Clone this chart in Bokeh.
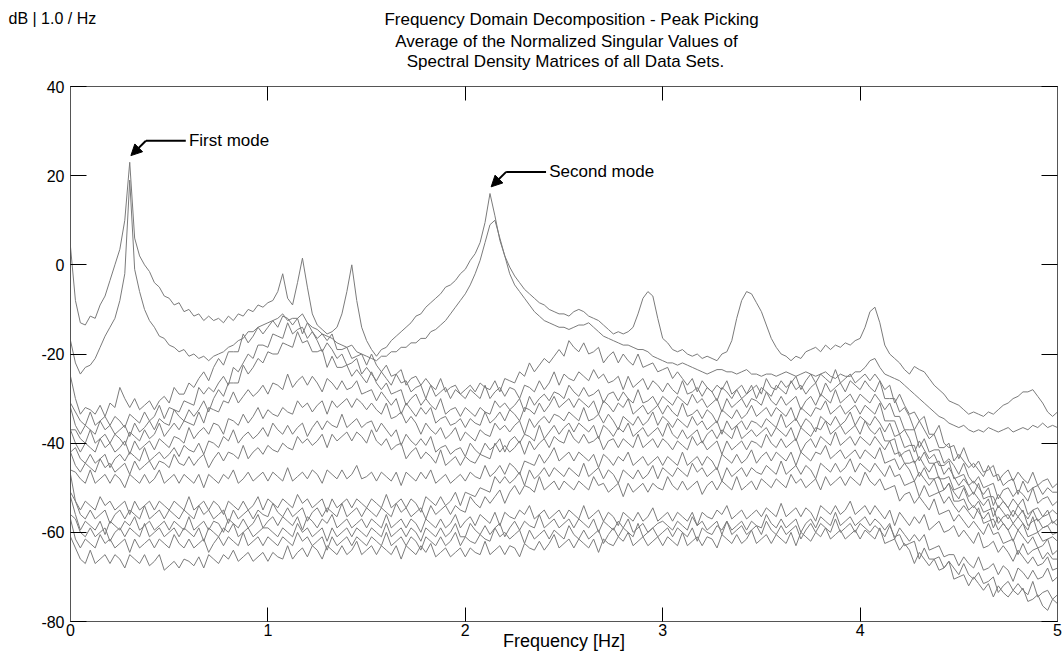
from bokeh.plotting import figure
from bokeh.models import Range1d, LinearAxis, FixedTicker, Label, Arrow, NormalHead
from bokeh.embed import file_html
from bokeh.resources import INLINE

# ---------------- data ----------------
freq = [round(i * 0.025, 3) for i in range(201)]

x_ticks = [0, 1, 2, 3, 4, 5]
x_tick_labels = ["0", "1", "2", "3", "4", "5"]
y_ticks = [40, 20, 0, -20, -40, -60, -80]
y_tick_labels = ["40", "20", "0", "-20", "-40", "-60", "-80"]

title_lines = ["Frequency Domain Decomposition - Peak Picking",
               "Average of the Normalized Singular Values of",
               "Spectral Density Matrices of all Data Sets."]
unit_text = "dB | 1.0 / Hz"
x_label = "Frequency [Hz]"
mode_labels = ["First mode", "Second mode"]

# singular values in dB, 0.025 Hz grid (0 .. 5 Hz)
sv1 = [4, -8, -13, -13.5, -11.5, -12, -9, -7, -3.5, 0, 3.5, 10, 23, 6, 2, 0, -1.5, -4, -5, -7,
       -7.5, -9, -8.5, -10.5, -10, -11.5, -11, -12.5, -11.5, -12.5, -12, -13, -11.5, -12.5, -11, -11.5, -10, -10.5, -9, -9.5,
       -8.5, -8, -6, -2, -7.5, -9, -4, 1.5, -5, -11, -13.5, -14.5, -15.5, -15, -14, -11, -6, 0, -8, -14,
       -17, -19, -20.5, -19, -18.5, -17, -16, -15, -14, -13, -11.5, -11, -9.5, -8.5, -7.5, -6.5, -5, -4.5, -3.5, -2,
       -1, 1, 2.5, 5, 9.5, 16, 11, 5.5, 2, -0.5, -2.5, -4, -5.5, -6.5, -7.5, -8.5, -9, -10, -10.5, -11,
       -11, -11.5, -10.5, -10, -10.5, -11.5, -12, -12.5, -13.5, -14.5, -15.5, -15, -15.5, -15, -14, -11, -7.5, -6, -7, -12,
       -16.5, -17.5, -19, -19.5, -19, -20, -20.5, -20, -21, -20.5, -21, -21.5, -20, -19.5, -17, -12, -8, -6, -6.5, -8.5,
       -10.5, -13.5, -16.5, -18.5, -20, -20.5, -21.5, -20.5, -21, -19.5, -19, -18.5, -19.5, -18, -19, -18, -18.5, -17.5, -18, -17,
       -16.5, -14, -10.5, -9.5, -13, -18, -20, -21, -22, -23.5, -24.5, -22.8, -23.5, -24, -25.5, -27, -28, -29, -30.5, -31,
       -31.5, -32.5, -33.5, -33, -33.5, -34, -33, -33.5, -32.5, -31.5, -31, -30, -29.5, -28.5, -28.5, -28, -29.5, -31, -33, -34,
       -33]
sv2 = [-17, -22, -24.5, -23, -22.5, -21, -18.5, -16, -14, -12, -8, -2, 19, -1, -6, -10, -12.5, -14, -16, -16.5,
       -18, -18.5, -19.5, -19, -20.5, -20, -21, -20.5, -21.5, -20.5, -20, -19.5, -18.5, -18, -17, -16.5, -15, -15, -14, -13.5,
       -13, -12.5, -12, -11, -12.5, -12, -12, -11, -13, -14, -14.5, -15.5, -16, -16.5, -17.5, -18, -18.5, -18, -19.5, -20,
       -20.5, -21, -21.5, -20.5, -20.5, -19.5, -19.5, -18.5, -18.5, -17.5, -17.5, -16.5, -16.5, -15, -14.5, -13.5, -12.5, -11, -9.5, -8,
       -6.5, -4.5, -2, 1, 5, 9, 10, 6, 2, -2, -4.5, -6, -7.5, -9, -10.5, -11.5, -12.5, -13, -13.5, -14,
       -14, -14.5, -14, -13.5, -13.5, -13, -14, -15, -16, -16.5, -17, -17.5, -18, -18, -18.5, -19, -19, -19.5, -20.5, -21,
       -21.5, -22, -22, -22.5, -22, -22.5, -23, -23.5, -24, -24.5, -24, -23.5, -23.5, -24, -24, -24.5, -24, -23.5, -24.5, -24.5,
       -25, -24.5, -24.5, -25, -24.5, -24, -24.5, -25, -24.5, -24, -24.5, -25, -24.5, -24, -25, -25.5, -24.5, -25, -25, -24,
       -24, -23, -21.5, -21, -23, -24.5, -25, -25.5, -26, -27, -28, -29, -30, -31, -32, -33, -34, -34.5, -35.5, -36,
       -36.5, -36, -37, -37.5, -37, -37.5, -36.5, -37, -37.5, -37, -36.5, -37.5, -37, -36.5, -37, -36, -36.5, -35.5, -36.5, -36,
       -36.5]
sv3 = [-25, -30, -33.5, -32, -32.5, -33.5, -31.5, -34, -31, -32, -27.5, -30, -32, -30, -32.5, -31.5, -30.5, -32.5, -30.5, -29.5,
       -31, -27.5, -29, -29, -26.5, -27.5, -25.5, -24, -26, -23, -21, -22.5, -19.5, -19.5, -19.5, -15.5, -17.5, -16, -14, -15.5,
       -14, -12.5, -14, -11.5, -12, -13.5, -12, -15.5, -13, -15, -16.5, -15.5, -17, -15.5, -19, -19, -18.5, -21, -20.5, -20,
       -22.5, -20, -22.5, -24, -22.5, -25, -24.5, -23.5, -27, -25.5, -25, -27, -25.5, -27, -28, -25.5, -28.5, -27.5, -27, -29,
       -28, -27, -28.5, -26.5, -27.5, -28, -26, -28.5, -25.5, -26, -26.5, -24, -25, -22, -24, -22.5, -21, -22, -20.5, -19,
       -20.5, -17, -18.5, -19.5, -17.5, -20, -19.5, -18.5, -22, -20.5, -19.5, -22, -20, -21.5, -22.5, -20, -23, -22.5, -22, -24,
       -23.5, -23, -25.5, -24, -25.5, -27, -25.5, -28.5, -26, -27.5, -28.5, -27, -28, -26, -29, -28, -27, -29, -28, -27,
       -29, -25.5, -27.5, -28, -26, -27.5, -26.5, -25, -28, -26, -24.5, -26.5, -24.5, -25.5, -26.5, -23.5, -26.5, -25.5, -24.5, -26.5,
       -25.5, -24.5, -26, -24.5, -26, -28, -27, -31, -29, -31.5, -33.5, -33, -35, -34, -38, -38, -36, -40, -41, -40.5,
       -43.5, -41, -44, -45.5, -44, -46.5, -46, -45, -48.5, -47, -46, -48.5, -46.5, -48, -49, -46.5, -49.5, -48.5, -48, -50,
       -49]
sv4 = [-31, -33, -35, -36, -33, -36, -35, -34, -36, -34, -35, -36.5, -33.5, -34.5, -35.5, -33, -35, -34, -31.5, -34.5,
       -32, -32.5, -33, -30.5, -31, -31.5, -27.5, -29, -27.5, -28.5, -26.5, -25, -27, -23, -24, -22, -20, -21, -18, -18,
       -18.5, -15.5, -16, -16.5, -13, -15.5, -14.5, -14, -16.5, -15, -17, -19.5, -17.5, -19, -21, -20, -22.5, -22, -21, -24.5,
       -23, -24.5, -26, -24, -25.5, -27, -24.5, -26.5, -26, -28.5, -27.5, -27, -30, -27, -29.5, -28.5, -27.5, -30, -28, -29,
       -30, -28, -29, -30, -27, -30, -28.5, -27.5, -29.5, -27.5, -28, -30, -27, -27.5, -28.5, -26, -28, -26.5, -24, -27,
       -24.5, -25.5, -26, -24, -25, -26, -23.5, -25.5, -24.5, -26.5, -26, -25, -28, -25, -27.5, -26.5, -25.5, -28, -26, -27,
       -28.5, -26.5, -28, -29, -26, -29, -28.5, -27.5, -29.5, -27.5, -28.5, -30.5, -27.5, -28.5, -30, -28, -30, -29, -27, -30,
       -27.5, -28.5, -29.5, -27, -28, -29, -26, -28, -27, -29, -27.5, -26.5, -29.5, -26.5, -28.5, -27.5, -26.5, -28.5, -26, -27,
       -28, -26, -27.5, -28.5, -26, -30, -30, -30, -33, -32, -34, -37, -35, -37, -39, -38, -41, -41, -40, -44,
       -42.5, -44, -45.5, -44.5, -46, -47.5, -45, -47.5, -47, -49.5, -48.5, -48, -51.5, -48.5, -51, -50, -49.5, -51.5, -50, -51,
       -51]
sv5 = [-32, -36, -38, -36, -37, -38, -35, -37, -36, -38, -37, -36, -38.5, -35.5, -37.5, -36.5, -35, -37, -34.5, -35.5,
       -36, -32.5, -34, -35, -32.5, -34, -32.5, -30.5, -33, -30, -28, -29.5, -26.5, -26.5, -26.5, -22.5, -24.5, -23, -21, -22,
       -19.5, -20, -20, -17.5, -18, -18.5, -15, -17.5, -17, -19.5, -19.5, -19, -23, -20.5, -23, -23, -22.5, -25, -23.5, -25,
       -26.5, -24, -26.5, -28, -26.5, -29, -28.5, -28, -31.5, -30, -29, -31.5, -30, -31.5, -32.5, -30, -33.5, -32.5, -32, -34,
       -32, -33, -34, -32, -33, -33.5, -30.5, -32, -31, -32.5, -31.5, -30, -33, -29.5, -31.5, -30, -29, -30.5, -28.5, -29,
       -30, -27, -28.5, -29.5, -27.5, -29.5, -29, -28, -31, -29, -28.5, -30.5, -28.5, -30, -31, -28, -31, -30.5, -29.5, -31.5,
       -29.5, -30.5, -31.5, -29.5, -30.5, -31.5, -29, -31, -30, -32, -31, -30, -33, -30, -32, -31, -30, -32, -30, -30.5,
       -31.5, -28.5, -30.5, -31.5, -29.5, -31.5, -30.5, -29.5, -32.5, -30.5, -29.5, -31.5, -29, -30, -31, -28, -31, -30, -29, -31,
       -29, -30, -31, -29, -30.5, -32.5, -31, -34, -34, -37, -37, -37, -41, -39, -42, -41.5, -41.5, -44.5, -43.5, -45,
       -47, -44.5, -47.5, -49, -47.5, -50, -49.5, -49, -52.5, -50.5, -50, -52, -50.5, -51.5, -53, -50, -53.5, -52.5, -52, -54,
       -53]
sv6 = [-37, -37, -39, -40, -37, -40, -39, -38, -40, -38, -39, -40.5, -37.5, -38.5, -39.5, -37, -39, -38, -35.5, -38.5,
       -37, -35.5, -37, -35, -35.5, -36, -33, -35.5, -32, -32.5, -33, -30.5, -31, -28.5, -31, -29.5, -28, -29.5, -28.5, -27,
       -29, -26.5, -27, -28, -24.5, -27.5, -26, -25, -27, -25, -26.5, -28.5, -25.5, -26.5, -28, -26, -28, -27.5, -26, -29,
       -28.5, -28, -30.5, -28.5, -30, -31.5, -30, -33.5, -31, -32.5, -34, -32, -33.5, -32, -35.5, -34.5, -34, -36, -35.5, -34.5,
       -36.5, -34.5, -35.5, -36, -33, -35.5, -34.5, -33, -35, -32.5, -33.5, -35, -32, -32.5, -33.5, -31, -33, -31.5, -29.5, -32,
       -31, -30, -32, -30, -31, -32, -30.5, -33.5, -30.5, -31.5, -33, -31, -32, -30, -33.5, -32.5, -31.5, -33.5, -32.5, -31.5,
       -33.5, -31.5, -33, -34, -31, -34, -33.5, -32.5, -34.5, -32.5, -33.5, -35.5, -32.5, -33.5, -34.5, -32.5, -34.5, -33.5, -31.5, -34,
       -33, -32, -34, -32, -33, -34, -32, -35, -32, -33, -34, -32, -32.5, -30.5, -33.5, -32.5, -31.5, -33.5, -32.5, -31.5,
       -33.5, -31.5, -32.5, -33.5, -31, -35, -35, -35, -38, -37, -39, -42, -39.5, -41.5, -43.5, -42.5, -45, -45, -44, -48,
       -47.5, -47, -49.5, -48.5, -50, -51.5, -50, -54, -51.5, -53, -54.5, -52.5, -54, -52.5, -56, -55, -54.5, -56.5, -56, -55,
       -56]
sv7 = [-37, -40, -42, -40, -41, -42, -39, -41, -40, -42, -41, -39.5, -42.5, -39.5, -41.5, -40.5, -39.5, -41.5, -39, -40,
       -41, -38.5, -39, -40, -36.5, -39, -37.5, -36.5, -38, -35.5, -36, -38, -34.5, -35, -36, -33.5, -35.5, -34, -32, -34.5,
       -32.5, -33.5, -34, -32, -33, -33.5, -30.5, -32, -31, -33, -31.5, -30.5, -33.5, -30.5, -32, -31, -30, -32, -30, -31,
       -32.5, -31, -32.5, -33.5, -31, -34.5, -34, -33, -35.5, -34, -35.5, -38, -35.5, -37, -38, -36.5, -39, -38, -36.5, -39.5,
       -37.5, -38.5, -39.5, -37, -38, -38.5, -35.5, -37, -36, -37.5, -36, -35, -38, -34.5, -36.5, -35, -34, -35.5, -33.5, -34,
       -35, -33, -34, -35, -32, -35, -34.5, -33.5, -35.5, -33.5, -35, -37, -34, -35, -36, -34, -36, -35, -33, -36,
       -34, -35, -36.5, -34.5, -35.5, -36.5, -34, -36, -35, -37, -36, -35, -38, -35, -37, -36, -35, -37, -35, -35.5,
       -36.5, -34.5, -35.5, -36.5, -33.5, -36.5, -35.5, -34.5, -36.5, -34.5, -35.5, -37.5, -34, -35, -36, -34, -36, -35, -33, -36,
       -34, -35, -36, -34, -35.5, -37.5, -35.5, -38.5, -38, -41, -40.5, -40.5, -44, -42, -44.5, -44.5, -44, -47, -45.5, -47.5,
       -49.5, -48, -49.5, -51.5, -49, -52.5, -52, -52, -54.5, -53, -54.5, -56.5, -54, -55.5, -57, -55, -57.5, -56.5, -55, -58,
       -57]
sv8 = [-42, -41, -43.5, -44.5, -42.5, -44.5, -43.5, -42.5, -45.5, -43.5, -42.5, -44, -42, -43, -44, -41, -44, -43, -42, -43.5,
       -42.5, -41, -43, -40.5, -41.5, -42, -40, -42.5, -39.5, -40, -41, -38.5, -39.5, -37, -40, -38.5, -37.5, -39, -38, -36.5,
       -38.5, -35.5, -37, -38, -36, -38, -36.5, -35.5, -38.5, -36.5, -35, -37, -35, -36, -36.5, -33.5, -36.5, -35.5, -34.5, -36.5,
       -35.5, -35, -37.5, -35.5, -37, -38.5, -37, -40.5, -38, -39.5, -40.5, -39, -40.5, -38.5, -42, -41, -40.5, -42.5, -41.5, -41,
       -43, -40, -41.5, -42.5, -40, -41.5, -40.5, -39, -42, -39.5, -38.5, -40, -38, -38.5, -39.5, -36, -39, -37.5, -36, -38,
       -36.5, -35.5, -37.5, -35.5, -36.5, -37.5, -36, -39, -36, -37, -38.5, -36.5, -37.5, -35.5, -38.5, -37.5, -36.5, -38.5, -37.5, -36.5,
       -38.5, -35.5, -38, -39, -37, -39, -38, -37, -40, -38, -37, -39, -37, -38, -39, -36, -39, -38, -37, -38.5,
       -37.5, -36.5, -38.5, -36.5, -37.5, -38.5, -36.5, -39.5, -36.5, -37.5, -38.5, -36.5, -37, -35, -38, -37, -36, -38, -37, -36,
       -38, -35, -37, -38, -36.5, -39.5, -39.5, -39, -43, -42, -41.5, -44.5, -43, -45, -46.5, -44.5, -48, -48, -47.5, -50.5,
       -50, -49.5, -52, -51, -52.5, -54, -52.5, -56.5, -54, -55.5, -57, -55, -56.5, -55, -58.5, -57.5, -57, -59, -58.5, -57.5,
       -58.5]
sv9 = [-42, -45, -46.5, -44.5, -45.5, -46.5, -43.5, -45.5, -44.5, -46.5, -45.5, -44.5, -47, -44, -46, -45, -44, -46, -44, -44.5,
       -45.5, -42.5, -44.5, -45, -43, -45, -43.5, -42.5, -45.5, -43.5, -42, -44, -42, -42.5, -43.5, -40.5, -43.5, -42, -41, -42.5,
       -40.5, -41.5, -42, -40, -41, -41.5, -38.5, -40, -39, -40.5, -39.5, -38, -41, -38, -39.5, -38.5, -37.5, -39.5, -37.5, -38.5,
       -40, -37, -39.5, -40.5, -39, -41.5, -40.5, -40, -43.5, -42, -41, -43.5, -42, -43, -44.5, -41.5, -45, -44, -43, -45,
       -43, -44, -44.5, -42.5, -43, -43.5, -40, -42, -40.5, -42, -41, -39.5, -42.5, -39.5, -41.5, -40, -39, -41, -38.5, -39.5,
       -40, -37, -39, -40, -38, -40, -39.5, -38.5, -41.5, -39.5, -39, -41, -39, -40, -41, -38, -41, -40, -39, -41,
       -39, -40, -41.5, -39.5, -40.5, -41.5, -38.5, -40.5, -39.5, -41.5, -40.5, -39.5, -42.5, -39.5, -41.5, -40.5, -39.5, -41.5, -39.5, -40,
       -41, -38, -40, -41, -39, -41, -40, -39, -42, -40, -39, -41, -38.5, -39.5, -40.5, -37.5, -40.5, -39.5, -38.5, -40.5,
       -38.5, -39.5, -40.5, -38.5, -40, -41.5, -39.5, -42.5, -42, -44.5, -44.5, -44, -47.5, -45.5, -48, -48, -47.5, -50.5, -49, -51,
       -52.5, -50, -53, -54.5, -53, -55.5, -55, -54.5, -58, -56.5, -56, -58, -56.5, -58, -59.5, -56.5, -60, -59, -58.5, -60.5,
       -60]
sv10 = [-46, -46.5, -48, -49, -46, -49, -48, -47, -49, -47, -48, -50, -47, -48, -49, -47, -49, -48, -46, -49,
        -48, -47, -49, -47, -48, -49, -47, -50, -47, -48, -49, -47, -48, -46, -49, -48, -46.5, -48.5, -47.5, -46.5,
        -48.5, -46.5, -47.5, -48.5, -45.5, -48.5, -47.5, -46.5, -48, -46, -47, -49, -46, -47, -48, -46, -48, -47, -45, -48,
        -47.5, -46.5, -48.5, -46.5, -47.5, -48.5, -46.5, -49.5, -46.5, -47.5, -48.5, -46.5, -48, -46, -49, -48, -47, -49, -48, -47,
        -48.5, -46.5, -47.5, -48, -45, -47.5, -46.5, -45, -47, -44.5, -45.5, -47, -44, -44.5, -45, -42.5, -44.5, -43, -41, -44,
        -43, -42, -44, -42, -43, -44, -42.5, -45.5, -42.5, -43.5, -45, -43, -44, -42, -45, -44, -43, -45, -44, -43,
        -45, -43, -44, -45, -42, -45, -44, -43, -45, -43, -44, -46, -42.5, -43.5, -44.5, -42.5, -44.5, -43.5, -41.5, -44.5,
        -43, -42, -44, -42, -43, -44, -42, -45, -42, -43, -44, -42, -42.5, -40.5, -43.5, -42.5, -41.5, -43.5, -42.5, -41.5,
        -43.5, -41.5, -42.5, -43.5, -41, -44.5, -44, -43.5, -46, -44.5, -46, -48.5, -46.5, -48, -49.5, -48, -51, -50.5, -49, -53,
        -53, -52.5, -55, -54, -55.5, -57, -55.5, -59, -56.5, -58, -59.5, -58, -59.5, -58, -61, -60.5, -60, -62, -61.5, -61,
        -62]
sv11 = [-47, -53, -55, -53, -54, -55, -52, -54, -53, -55, -54, -53, -56, -53, -55, -54, -53, -55, -53, -54,
        -55, -53, -54, -55, -52, -55, -54, -53, -55, -53, -54, -56, -53, -54, -55, -53, -55, -54, -52, -55,
        -52.5, -53.5, -54.5, -52.5, -53.5, -54.5, -51.5, -53.5, -52.5, -54.5, -53.5, -52.5, -55.5, -52.5, -54.5, -53.5, -52.5, -54.5, -52.5, -53.5,
        -54.5, -52.5, -53.5, -54.5, -51.5, -54.5, -53.5, -52.5, -54.5, -52.5, -53.5, -55.5, -52, -53, -54, -52, -54, -53, -51, -54,
        -51, -51.5, -52, -50, -50.5, -51, -47.5, -49, -47.5, -49, -48, -46.5, -49.5, -46, -48, -47, -45.5, -47.5, -45.5, -46.5,
        -47.5, -45.5, -46.5, -47.5, -44.5, -47.5, -46.5, -45.5, -48, -46, -47, -49, -46, -47, -48, -46, -48, -47, -45, -48,
        -45.5, -46.5, -47.5, -45.5, -46.5, -47.5, -44.5, -46.5, -45.5, -47.5, -46.5, -45.5, -48.5, -45.5, -47.5, -46.5, -45.5, -47.5, -45.5, -46.5,
        -47, -45, -46, -47, -44, -47, -46, -45, -47, -45, -46, -48, -44.5, -45.5, -46.5, -44.5, -46.5, -45.5, -43.5, -46.5,
        -44.5, -45.5, -46.5, -44.5, -46, -47.5, -45, -47.5, -47, -49.5, -49, -48.5, -52, -49.5, -52, -51.5, -51, -53.5, -52, -54,
        -55.5, -54, -55.5, -57, -54.5, -58, -57.5, -57, -59.5, -58, -59.5, -62, -59.5, -61, -62.5, -61, -63.5, -63, -61.5, -65,
        -64]
sv12 = [-51, -53, -56, -57, -55, -57, -56, -55, -58, -56, -55, -57, -55, -56, -57, -54, -57, -56, -55, -57,
        -55, -56, -57, -55, -56, -57, -54, -56, -55, -57, -56, -55, -58, -55, -57, -56, -55, -57, -55, -56,
        -56.5, -53.5, -55.5, -56.5, -54.5, -56.5, -55.5, -54.5, -57.5, -55.5, -54.5, -56.5, -54.5, -55.5, -56.5, -53.5, -56.5, -55.5, -54.5, -56.5,
        -54.5, -55.5, -56.5, -54.5, -55.5, -56.5, -53.5, -55.5, -54.5, -56.5, -55.5, -54.5, -57, -54, -56, -55, -54, -56, -54, -55,
        -55.5, -52, -53.5, -54.5, -52, -53.5, -52, -50.5, -53.5, -51, -49.5, -51.5, -49.5, -50, -51, -47.5, -50.5, -49.5, -48.5, -50.5,
        -48.5, -49.5, -50.5, -48.5, -49.5, -50.5, -47.5, -49.5, -49, -51, -50, -49, -52, -49, -51, -50, -49, -51, -49, -50,
        -50.5, -47.5, -49.5, -50.5, -48.5, -50.5, -49.5, -48.5, -51.5, -49.5, -48.5, -50.5, -48.5, -49.5, -50.5, -47.5, -50.5, -49.5, -48.5, -50.5,
        -48, -49, -50, -48, -49, -50, -47, -49, -48, -50, -49, -48, -50.5, -47.5, -49.5, -48.5, -47.5, -49.5, -47.5, -48.5,
        -49.5, -46.5, -48.5, -49.5, -48, -50.5, -50, -49.5, -53, -51.5, -51, -53.5, -52, -53.5, -55, -52.5, -56, -55.5, -55, -57.5,
        -56, -57.5, -59, -57.5, -59, -60.5, -58, -60.5, -60, -62.5, -62, -61.5, -65, -62.5, -65, -64, -63.5, -66, -64.5, -66,
        -66]
sv13 = [-52, -56, -59.5, -57.5, -58.5, -59.5, -57.5, -60.5, -57.5, -58.5, -59.5, -57.5, -58.5, -56.5, -59.5, -58.5, -57.5, -59.5, -58.5, -57.5,
        -59.5, -57.5, -58.5, -59.5, -56.5, -59.5, -58.5, -57.5, -59.5, -57.5, -58, -60, -57, -58, -59, -57, -59, -58, -56, -59,
        -57.5, -56.5, -58.5, -56.5, -57.5, -58.5, -56.5, -59.5, -56.5, -57.5, -59, -57, -58, -56, -59, -58, -57, -59, -58, -57,
        -59, -57, -58, -59, -56, -59, -58, -57, -59, -57, -58, -60, -57, -58, -59, -57, -59, -58, -56, -59,
        -57.5, -56.5, -58.5, -56, -57, -58, -55.5, -58.5, -55.5, -56.5, -57, -55, -56, -54, -57, -56, -55, -57, -56, -55,
        -57, -55, -56, -57, -54, -57, -56, -55, -57.5, -55.5, -56.5, -58.5, -55.5, -56.5, -57.5, -55.5, -57.5, -56.5, -54.5, -57.5,
        -56.5, -55.5, -57.5, -55.5, -56.5, -57.5, -55.5, -58.5, -55.5, -56.5, -57, -55, -56, -54, -57, -56, -55, -57, -56, -55,
        -56.5, -54.5, -55.5, -56.5, -53.5, -56.5, -55.5, -54.5, -56.5, -54.5, -55.5, -57.5, -54, -55, -56, -54, -56, -55, -53, -56,
        -55, -54, -56, -54, -55.5, -57, -55, -58.5, -55.5, -57, -58.5, -56.5, -58, -56, -59.5, -58.5, -57.5, -60, -59.5, -58.5,
        -61, -59.5, -61, -62.5, -60, -63.5, -63, -62, -64.5, -63, -64.5, -66.5, -64, -65.5, -67, -65.5, -67.5, -67, -65.5, -68.5,
        -68]
sv14 = [-56, -57, -60, -61, -59, -61, -60, -59, -62, -60, -59, -61, -59, -60, -61, -58, -61, -60, -59, -61,
        -60, -59, -61, -59, -60, -61, -59, -62, -59, -60, -61, -59, -60, -58, -61, -60, -59, -61, -60, -59,
        -59, -60, -61, -59, -60, -61, -58, -60, -59, -61, -60, -59, -62, -59, -61, -60, -59, -61, -59, -60,
        -61, -59, -60, -61, -58, -61, -60, -59, -61, -59, -60, -62, -59, -60, -61, -59, -61, -60, -58, -61,
        -61, -58, -59.5, -60.5, -58.5, -60.5, -59, -58, -61, -59, -57.5, -59.5, -57.5, -58.5, -59, -56, -59, -58, -57, -59,
        -58, -57, -59, -57, -58, -59, -57, -60, -57.5, -58.5, -59.5, -57.5, -59, -57, -60, -59, -58, -60, -59, -58,
        -57.5, -58.5, -59.5, -57.5, -58.5, -59.5, -56.5, -58.5, -57.5, -59.5, -58.5, -57.5, -60.5, -57.5, -59.5, -58.5, -57.5, -59.5, -57.5, -58.5,
        -59, -56, -58, -59, -57, -59, -58, -57, -60, -58, -57, -59, -56.5, -57.5, -58.5, -55.5, -58.5, -57.5, -56.5, -58.5,
        -57.5, -56.5, -58.5, -57, -58, -59.5, -58, -61.5, -59, -60.5, -62, -60.5, -62, -60.5, -64, -63.5, -63, -65.5, -65, -65,
        -67.5, -65.5, -67, -68, -65.5, -68.5, -68, -67, -69.5, -67.5, -68.5, -71, -68, -69, -70.5, -68.5, -70.5, -70, -68, -71,
        -70]
sv15 = [-57, -61.5, -63.5, -61.5, -62.5, -63.5, -60.5, -62.5, -61.5, -63.5, -62.5, -61.5, -64.5, -61.5, -63.5, -62.5, -61.5, -63.5, -61.5, -62.5,
        -63.5, -60.5, -62.5, -63.5, -61.5, -63.5, -62.5, -61.5, -64.5, -62.5, -61, -63, -61, -62, -63, -60, -63, -62, -61, -63,
        -61, -62, -63, -61, -62, -63, -60, -62, -61, -63, -62, -61, -64, -61, -63, -62, -61, -63, -61, -62,
        -63, -61, -62, -63, -60, -63, -62, -61, -63, -61, -62, -64, -61, -62, -63, -61, -63, -62, -60, -63,
        -61, -62, -62.5, -60.5, -61.5, -62, -59, -61, -60, -61.5, -60.5, -59.5, -62.5, -59.5, -61.5, -60.5, -59.5, -61.5, -59.5, -60.5,
        -61.5, -58.5, -60.5, -61.5, -59.5, -61.5, -60.5, -59.5, -62.5, -60.5, -59, -61, -59, -60, -61, -58, -61, -60, -59, -61,
        -60, -59, -61, -59, -60, -61, -59, -62, -59, -60, -60.5, -58.5, -59.5, -57.5, -60.5, -59.5, -58.5, -60.5, -59.5, -58.5,
        -60.5, -57.5, -59.5, -60.5, -58.5, -60.5, -59.5, -58.5, -61.5, -59.5, -58, -60, -58, -59, -60, -57, -60, -59, -58, -60,
        -58, -59, -60, -58.5, -59.5, -61, -58.5, -61, -60.5, -63, -62.5, -62, -66, -63.5, -66, -66, -65.5, -68, -66.5, -68,
        -69.5, -67, -69.5, -70.5, -69, -71.5, -71, -70, -73.5, -72, -71, -73, -71.5, -73, -74, -71, -74.5, -73.5, -73, -75,
        -74]
sv16 = [-61, -63.5, -66, -67, -64, -67, -66, -65, -67, -65, -66, -68, -65, -66, -67, -65, -67.5, -66.5, -65, -68.5,
        -67.5, -66.5, -68, -66, -66.5, -67.5, -65.5, -68, -65, -66, -67, -65, -66, -64, -66.5, -65.5, -64.5, -66.5, -65.5, -64.5,
        -66.5, -64.5, -65.5, -66, -63, -66, -64.5, -63.5, -65.5, -63, -64, -66, -63, -64, -65, -63, -65, -64, -62, -65,
        -64, -63, -65, -63, -64, -65, -63, -66, -63, -64, -65, -63, -64.5, -62.5, -65.5, -64.5, -63.5, -65.5, -64.5, -63.5,
        -65.5, -63.5, -64.5, -65, -62, -65, -64, -63, -65, -63, -63.5, -65.5, -62.5, -63.5, -64, -62, -64, -62.5, -60.5, -63.5,
        -62.5, -61.5, -63.5, -61.5, -62.5, -63.5, -61.5, -64.5, -61.5, -62.5, -63, -61, -62, -60, -63, -62, -61, -63, -62, -61,
        -63, -61, -62, -63, -60, -63, -62, -61, -63, -61, -61.5, -63.5, -60.5, -61.5, -62.5, -60.5, -62.5, -61.5, -59.5, -62.5,
        -61.5, -60.5, -62.5, -60.5, -61.5, -62.5, -60, -63, -60, -61, -62, -60, -61, -59, -61.5, -60.5, -59.5, -61.5, -60.5, -59.5,
        -61.5, -59.5, -60.5, -61.5, -59, -62.5, -62, -61.5, -64, -62.5, -64, -67, -64.5, -66, -67.5, -66, -68.5, -68, -66.5, -70.5,
        -70, -69.5, -72, -70, -71.5, -73, -71.5, -74.5, -72, -73.5, -74.5, -73, -74, -72.5, -75.5, -75, -74, -76.5, -77.5, -75,
        -76]

series = [sv3, sv4, sv5, sv6, sv7, sv8, sv9, sv10, sv11, sv12, sv13, sv14, sv15, sv16, sv2, sv1]

# ---------------- styling ----------------
FONT = "Liberation Sans"
LINE = "#7b7b7b"
FRAME = "#555555"
PAGE_W = 1062
HEAD_H = 72
MAIN_H = 594

# ---------------- header (titles) ----------------
head = figure(width=PAGE_W, height=HEAD_H, x_range=Range1d(0, PAGE_W), y_range=Range1d(HEAD_H, 0),
              output_backend="svg", toolbar_location=None,
              x_axis_location=None, y_axis_location=None,
              min_border_left=0, min_border_right=0, min_border_top=0, min_border_bottom=0)
head.grid.visible = False
head.outline_line_color = None
head.background_fill_color = "white"
head.border_fill_color = "white"

title_pos = [(571, 19), (566, 40.5), (565, 61)]
for t, (tx, ty) in zip(title_lines, title_pos):
    head.add_layout(Label(x=tx, y=ty, text=t, text_font=FONT, text_font_size="17px",
                          text_align="center", text_baseline="middle", text_color="black"))
head.add_layout(Label(x=8, y=18, text=unit_text, text_font=FONT, text_font_size="16px",
                      text_align="left", text_baseline="middle", text_color="black"))

# ---------------- main plot ----------------
p = figure(width=PAGE_W, height=MAIN_H, x_range=Range1d(0, 5), y_range=Range1d(-80, 40),
           output_backend="svg", toolbar_location=None,
           x_axis_location=None, y_axis_location=None,
           min_border_left=70, min_border_right=5, min_border_top=14, min_border_bottom=45)
p.grid.visible = False
p.outline_line_color = FRAME
p.outline_line_width = 1
p.background_fill_color = "white"
p.border_fill_color = "white"


def make_axis(ticks, labels, show_labels, tick_len):
    ax = LinearAxis(ticker=FixedTicker(ticks=ticks),
                    major_label_overrides={t: l for t, l in zip(ticks, labels)})
    ax.major_tick_in = tick_len
    ax.major_tick_out = 0
    ax.minor_tick_in = 0
    ax.minor_tick_out = 0
    ax.major_tick_line_color = "black"
    ax.axis_line_color = FRAME
    ax.major_label_text_font = FONT
    if show_labels:
        ax.major_label_text_font_size = "16px"
        ax.major_label_text_color = "black"
    else:
        ax.major_label_text_font_size = "0px"
        ax.major_label_text_color = None
        ax.major_label_standoff = 0
    return ax


bottom = make_axis(x_ticks, x_tick_labels, True, 14)
bottom.major_label_standoff = 2
bottom.axis_label = x_label
bottom.axis_label_text_font = FONT
bottom.axis_label_text_font_size = "18px"
bottom.axis_label_text_font_style = "normal"
bottom.axis_label_text_color = "black"
bottom.axis_label_standoff = -8
p.add_layout(bottom, "below")

left = make_axis(y_ticks, y_tick_labels, True, 16)
left.major_label_standoff = 6
p.add_layout(left, "left")

top = make_axis(x_ticks, x_tick_labels, False, 14)
p.add_layout(top, "above")
right = make_axis(y_ticks, y_tick_labels, False, 16)
p.add_layout(right, "right")

for ys in series:
    n = min(len(ys), len(freq))
    p.line(freq[:n], ys[:n], line_color=LINE, line_width=1)


def mark_peak(lo, hi, label):
    idx = [i for i, f in enumerate(freq) if lo <= f <= hi]
    k = max(idx, key=lambda i: sv1[i])
    fx, fy = freq[k], sv1[k]
    tip_x, tip_y = fx + 0.006, fy + 1.5
    elb_x, elb_y = fx + 0.082, fy + 4.85
    txt_x = fx + 0.30
    p.line([elb_x, txt_x - 0.016], [elb_y, elb_y], line_color="black", line_width=2)
    p.add_layout(Arrow(end=NormalHead(size=11, fill_color="black", line_color="black"),
                       x_start=elb_x, y_start=elb_y, x_end=tip_x, y_end=tip_y,
                       line_color="black", line_width=2))
    p.add_layout(Label(x=txt_x, y=elb_y, text=label, text_font=FONT, text_font_size="17px",
                       text_align="left", text_baseline="middle", text_color="black"))


mark_peak(0.0, 1.0, mode_labels[0])
mark_peak(1.9, 2.4, mode_labels[1])

open("out.html", "w").write(file_html([head, p], INLINE))
